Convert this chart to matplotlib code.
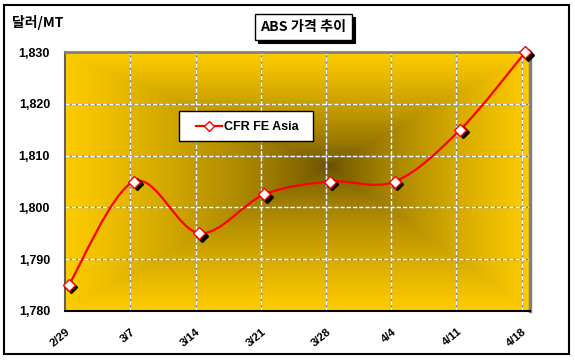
import numpy as np
import matplotlib
matplotlib.use("Agg")
import matplotlib.pyplot as plt
import matplotlib.transforms as mtransforms
from matplotlib.path import Path
from matplotlib.patches import PathPatch, Rectangle
from matplotlib.lines import Line2D

# data
dates = ["2/29", "3/7", "3/14", "3/21", "3/28", "4/4", "4/11", "4/18"]
cfr_fe_asia = [1785, 1805, 1795, 1802.5, 1805, 1805, 1815, 1830]
y_ticks = [1780, 1790, 1800, 1810, 1820, 1830]
series_name = "CFR FE Asia"
title = "ABS 가격 추이"
unit = "달러/MT"

W, H = 575, 364
LAT = ["Liberation Sans", "DejaVu Sans"]
KOR = ["Noto Sans CJK KR", "DejaVu Sans"]


def fx(px):
    return px / W


def fy(py):
    return 1 - py / H


fig = plt.figure(figsize=(W / 100, H / 100), dpi=100)
fig.patch.set_facecolor("white")
ax = fig.add_axes([fx(65.3), fy(310.7), (529.5 - 65.3) / W, (310.7 - 52.3) / H])

n = len(dates)
shift = 0.055  # markers sit a few px right of the gridlines
x_pos = np.arange(n) + shift
xlim = (0, 7.12)
ylim = (y_ticks[0], y_ticks[-1])
ax.set_xlim(*xlim)
ax.set_ylim(*ylim)

# "from center" gradient background
gold = np.array([255, 204, 0]) / 255
dark = np.array([100, 77, 0]) / 255
X, Y = np.meshgrid(np.linspace(0, 1, 460), np.linspace(0, 1, 260))
cx, cy = 0.57, 0.56
u = np.where(X < cx, (cx - X) / cx, (X - cx) / (1 - cx))
v = np.where(Y < cy, (cy - Y) / cy, (Y - cy) / (1 - cy))
t = np.clip(np.maximum(u, v), 0, 1) ** 0.7
rgb = dark + (gold - dark) * t[..., None]
ax.imshow(rgb, extent=[*xlim, *ylim], origin="lower", aspect="auto",
          zorder=0, interpolation="bilinear")

# gridlines: gray with white dashes
for yv in y_ticks[1:-1]:
    ax.axhline(yv, color="#808080", lw=1, zorder=1)
    ax.axhline(yv, color="white", lw=1, ls=(0, (3, 1.5)), zorder=1.1)
for i in range(1, n):
    ax.axvline(i, color="#808080", lw=1, zorder=1)
    ax.axvline(i, color="white", lw=1, ls=(0, (3, 1.5)), zorder=1.1)

# smoothed line (bezier through the points)
pts = np.column_stack([x_pos, cfr_fe_asia])
verts = [pts[0]]
codes = [Path.MOVETO]
for i in range(n - 1):
    p0 = pts[max(i - 1, 0)]
    p1 = pts[i]
    p2 = pts[i + 1]
    p3 = pts[min(i + 2, n - 1)]
    verts += [p1 + (p2 - p0) / 6, p2 - (p3 - p1) / 6, p2]
    codes += [Path.CURVE4] * 3
ax.add_patch(PathPatch(Path(verts, codes), fill=False, edgecolor="red",
                       lw=1.6, zorder=3, capstyle="round"))

shadow = mtransforms.offset_copy(ax.transData, fig=fig, x=2.5, y=-2.5, units="dots")
ax.plot(x_pos, cfr_fe_asia, ls="none", marker="D", ms=6.5, mfc="black",
        mec="black", transform=shadow, zorder=4, clip_on=False)
ax.plot(x_pos, cfr_fe_asia, ls="none", marker="D", ms=6.5, mfc="white",
        mec="red", mew=1, zorder=5, clip_on=False)

# spines
ax.spines["top"].set_color("#808080")
ax.spines["right"].set_color("#808080")
ax.spines["top"].set_linewidth(2)
ax.spines["right"].set_linewidth(2.5)
ax.spines["left"].set_color("#606060")
ax.spines["left"].set_linewidth(1.5)
ax.spines["bottom"].set_color("black")
ax.spines["bottom"].set_linewidth(1.5)

# ticks
ax.set_yticks(y_ticks, labels=[f"{v:,}" for v in y_ticks])
ax.tick_params(axis="y", length=0, pad=11, labelsize=9)
ax.set_xticks(x_pos, labels=dates)
ax.tick_params(axis="x", length=0, pad=14, labelsize=8.2)
for lbl in ax.get_yticklabels():
    lbl.set_fontweight("bold")
    lbl.set_family(LAT)
for lbl in ax.get_xticklabels():
    lbl.set_fontweight("bold")
    lbl.set_family(LAT)
    lbl.set_rotation(40)
    lbl.set_ha("right")
    lbl.set_va("center")
    lbl.set_rotation_mode("anchor")


def rect_px(x0, y0, x1, y1, **kw):
    r = Rectangle((fx(x0), fy(y1)), (x1 - x0) / W, (y1 - y0) / H,
                  transform=fig.transFigure, **kw)
    fig.add_artist(r)
    return r


# outer frame
rect_px(4, 5, 569, 354, fill=False, edgecolor="black", lw=1.5)

# unit label
fig.text(fx(12), fy(22), unit, ha="left", va="center", fontsize=10,
         fontweight="bold", family=KOR)

# title box with shadow
rect_px(257.5, 16.5, 354.5, 42.5, facecolor="black", edgecolor="black", lw=0.8)
rect_px(255, 14, 352, 40, facecolor="white", edgecolor="black", lw=1)
fig.text(fx(303.5), fy(27.5), title, ha="center", va="center", fontsize=10.2,
         fontweight="bold", family=KOR)

# legend
rect_px(179, 111, 313, 141, facecolor="white", edgecolor="black", lw=1)
fig.add_artist(Line2D([fx(196), fx(222)], [fy(126), fy(126)], color="red", lw=1.6,
                      transform=fig.transFigure))
fig.add_artist(Line2D([fx(209)], [fy(126)], ls="none", marker="D", ms=5.5,
                      mfc="white", mec="red", mew=1, transform=fig.transFigure))
fig.text(fx(224), fy(126.5), series_name, ha="left", va="center", fontsize=9,
         fontweight="bold", family=LAT)

fig.savefig("out.png", dpi=100)
